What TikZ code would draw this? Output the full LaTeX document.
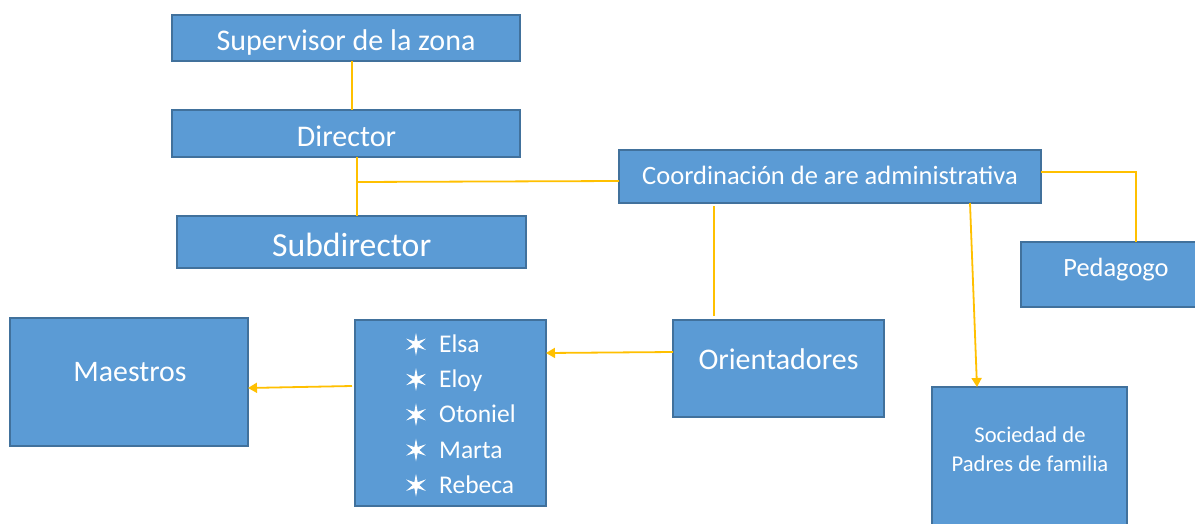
\documentclass[tikz,border=0pt]{standalone}
\usepackage{fontspec}
\setmainfont{Carlito}
\newfontfamily\starfont[FakeBold=3]{DejaVu Sans}
\usetikzlibrary{arrows.meta}
\definecolor{boxfill}{HTML}{5B9BD5}
\definecolor{boxline}{HTML}{41719C}
\definecolor{conncol}{HTML}{FFC000}
\begin{document}
\begin{tikzpicture}[x=1pt,y=-1pt,
 box/.style={draw=boxline, fill=boxfill, line width=1.5pt, inner sep=0pt, outer sep=0pt},
 txt/.style={text=white, inner sep=0pt, anchor=base},
 conn/.style={draw=conncol, line width=1.8pt},
 arr/.style={conn, -{Triangle[length=9pt,width=10pt]}}]
\useasboundingbox (0,0) rectangle (1195,523);
\fill[white] (0,0) rectangle (1195,523);
% boxes
\node[box, minimum width=348pt, minimum height=46pt] (sup) at (346,38) {};
\node[box, minimum width=348pt, minimum height=47pt] (dir) at (346,133.5) {};
\node[box, minimum width=349pt, minimum height=52pt] (sub) at (351.5,242) {};
\node[box, minimum width=422pt, minimum height=53pt] (coord) at (830,176.5) {};
\node[box, minimum width=190pt, minimum height=65pt] (ped) at (1116,274.5) {};
\node[box, minimum width=238pt, minimum height=128pt] (mae) at (129,382) {};
\node[box, minimum width=191pt, minimum height=186pt] (list) at (450.5,413) {};
\node[box, minimum width=211pt, minimum height=97pt] (ori) at (778.5,368.5) {};
\node[box, minimum width=195pt, minimum height=173pt] (soc) at (1029.5,473.5) {};
% texts
\node[txt, font=\fontsize{30}{36}\selectfont] (supT) at (346,50.7) {Supervisor de la zona};
\node[txt, font=\fontsize{30}{36}\selectfont] (dirT) at (346.5,146) {Director};
\node[txt, font=\fontsize{33.7}{40}\selectfont] (subT) at (351.7,256) {Subdirector};
\node[txt, font=\fontsize{26.5}{32}\selectfont] (coordT) at (830,184) {Coordinación de are administrativa};
\node[txt, font=\fontsize{26.4}{32}\selectfont] (pedT) at (1116,276) {Pedagogo};
\node[txt, font=\fontsize{29.8}{36}\selectfont] (maeT) at (130,381.7) {Maestros};
\node[txt, font=\fontsize{30}{36}\selectfont] (oriT) at (778.5,369) {Orientadores};
\node[txt, font=\fontsize{22.6}{28}\selectfont] (socA) at (1030,442.7) {Sociedad de};
\node[txt, font=\fontsize{22.6}{28}\selectfont] (socB) at (1030,471.7) {Padres de familia};
% list items
\foreach \n/\yy/\name in {1/352.3/Elsa, 2/387.5/Eloy, 3/422.7/Otoniel, 4/458/Marta, 5/493.2/Rebeca}{
  \node[text=white, inner sep=0pt, font=\starfont\fontsize{25}{30}\selectfont] (s\n) at (416,\yy-8) {✶};
  \node[txt, anchor=base west, font=\fontsize{25.5}{30}\selectfont] (i\n) at (439,\yy) {\name};
}
% connectors
\draw[conn] ([xshift=6pt]sup.south) -- ([xshift=6pt]dir.north);
\draw[conn] ([xshift=11pt]dir.south) -- ([xshift=5.5pt]sub.north);
\coordinate (j) at (356,182);
\draw[conn] (j) -- ([yshift=-4.5pt]coord.west);
\draw[conn] ([yshift=4.5pt]coord.east) -| ([xshift=20pt]ped.north);
\draw[conn] ([xshift=-116pt,yshift=-3pt]coord.south) -- ([xshift=-64.5pt,yshift=4pt]ori.north);
\draw[arr] ([xshift=140pt]coord.south) -- ([xshift=-52.5pt]soc.north);
\draw[arr] ([yshift=16.5pt]ori.west) -- ([yshift=60pt]list.east);
\draw[arr] ([xshift=-3pt,yshift=27pt]list.west) -- ([yshift=-6pt]mae.east);
\end{tikzpicture}
\end{document}
